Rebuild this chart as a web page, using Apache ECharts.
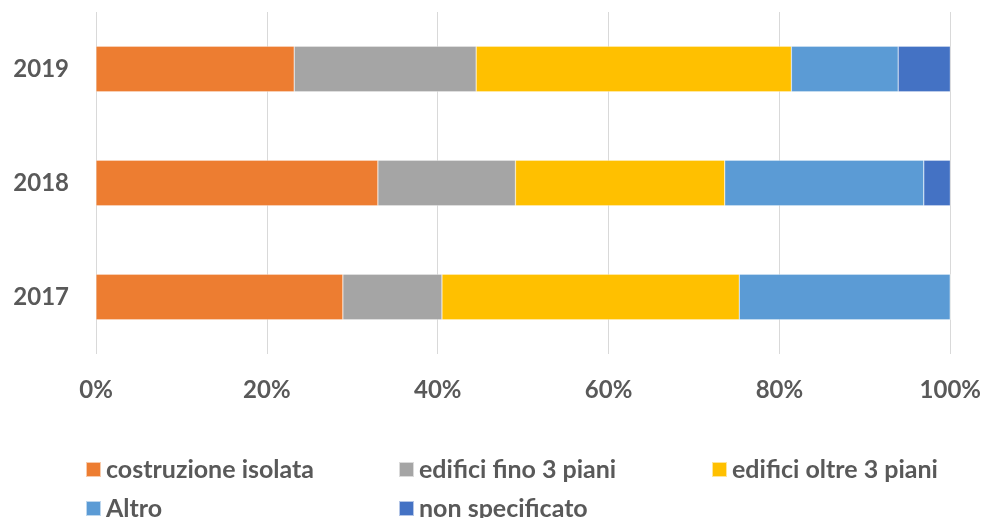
<!DOCTYPE html>
<html>
<head>
<meta charset="utf-8">
<script src="https://cdn.jsdelivr.net/npm/echarts@6/dist/echarts.min.js"></script>
<style>
  html, body { margin: 0; padding: 0; background: #fff; }
  #chart { width: 984px; height: 518px; }
</style>
</head>
<body>
<div id="chart"></div>
<script>
// Years, bottom to top on the category axis
const years = ['2017', '2018', '2019'];

// Share of each type per year (%)
const costruzioneIsolata = [28.9, 33.0, 23.2];
const edificiFino3 = [11.6, 16.1, 21.3];
const edificiOltre3 = [34.8, 24.5, 36.9];
const altro = [24.7, 23.3, 12.5];
const nonSpecificato = [0, 3.1, 6.1];

const seriesNames = ['costruzione isolata', 'edifici fino 3 piani', 'edifici oltre 3 piani', 'Altro', 'non specificato'];
const seriesValues = [costruzioneIsolata, edificiFino3, edificiOltre3, altro, nonSpecificato];
const colors = ['#ED7D31', '#A5A5A5', '#FFC000', '#5B9BD5', '#4472C4'];

const xTicks = [0, 20, 40, 60, 80, 100];

const fontFamily = 'Lato, "Open Sans", sans-serif';
const textColor = '#595959';

const chart = echarts.init(document.getElementById('chart'));

// One legend block per entry so the entries sit on a fixed column grid
const legendSpots = [
  { left: 80, top: 452 },
  { left: 393, top: 452 },
  { left: 706, top: 452 },
  { left: 80, top: 491 },
  { left: 393, top: 491 }
];

chart.setOption({
  animation: false,
  color: colors,
  grid: { left: 96, right: 33, top: 12, bottom: 164, containLabel: false },
  legend: seriesNames.map((n, i) => ({
    data: [n],
    left: legendSpots[i].left,
    top: legendSpots[i].top,
    icon: 'rect',
    itemWidth: 15,
    itemHeight: 15,
    itemGap: 8,
    textStyle: { fontFamily, fontSize: 25, fontWeight: 'bold', color: textColor }
  })),
  xAxis: {
    type: 'value',
    min: xTicks[0],
    max: xTicks[xTicks.length - 1],
    interval: 20,
    axisLine: { show: false },
    axisTick: { show: false },
    splitLine: { lineStyle: { color: '#D9D9D9', width: 1 } },
    axisLabel: {
      formatter: v => v + '%',
      margin: 24,
      fontFamily, fontSize: 24, fontWeight: 'bold', color: textColor
    }
  },
  yAxis: {
    type: 'category',
    data: years,
    axisLine: { show: false },
    axisTick: { show: false },
    axisLabel: {
      margin: 27,
      fontFamily, fontSize: 24, fontWeight: 'bold', color: textColor
    }
  },
  series: seriesNames.map((n, i) => ({
    name: n,
    type: 'bar',
    stack: 'total',
    barWidth: '40%',
    data: seriesValues[i],
    itemStyle: { color: colors[i], borderColor: 'rgba(255,255,255,0.6)', borderWidth: 0.5 }
  }))
});
</script>
</body>
</html>
